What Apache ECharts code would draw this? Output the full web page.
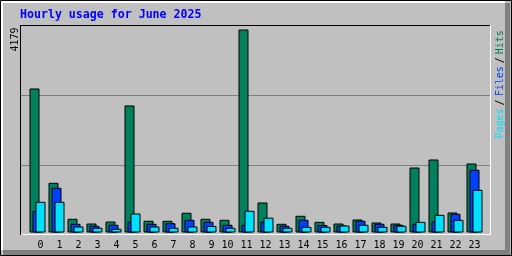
<!DOCTYPE html>
<html>
<head>
<meta charset="utf-8">
<script src="https://cdn.jsdelivr.net/npm/echarts@6/dist/echarts.min.js"></script>
<style>
html,body{margin:0;padding:0;background:#C0C0C0;}
#c{width:512px;height:256px;}
</style>
</head>
<body>
<div id="c"></div>
<script>
const titleText = 'Hourly usage for June 2025';
const maxLabel = '4179';
const hours = ['0','1','2','3','4','5','6','7','8','9','10','11','12','13','14','15','16','17','18','19','20','21','22','23'];
const hits  = [2965,1023,282,185,226,2615,241,241,406,282,261,4179,618,179,344,220,185,268,206,185,1338,1503,412,1421];
const files = [443,920,179,138,159,226,179,191,261,220,159,159,222,138,261,154,144,241,179,159,179,226,385,1291];
const pages = [632,632,124,97,76,391,124,97,124,134,97,447,305,97,117,117,144,159,117,138,220,364,261,879];

const C_HIT = '#00805C', C_FILE = '#0040FF', C_PAGE = '#00E0FF';
const mono = '"DejaVu Sans Mono", "Liberation Mono", monospace';

const chart = echarts.init(document.getElementById('c'), null, {renderer:'canvas', width:512, height:256});

function line(x1,y1,x2,y2,color,z){
  return {type:'line', z:z||0, silent:true, shape:{x1:x1,y1:y1,x2:x2,y2:y2}, style:{stroke:color, lineWidth:1}};
}
function rect(x,y,w,h,color,z){
  return {type:'rect', z:z||0, silent:true, shape:{x:x,y:y,width:w,height:h}, style:{fill:color}};
}

const graphics = [
  // outer bevel
  rect(0,0,512,256,'#C0C0C0',-10),
  rect(1,1,504,2,'#FFFFFF',-9),
  rect(1,1,2,249,'#FFFFFF',-9),
  rect(505,3,5,252,'#808080',-9),
  rect(3,250,507,5,'#808080',-9),
  {type:'rect', z:-8, silent:true, shape:{x:0.5,y:0.5,width:511,height:255}, style:{fill:null, stroke:'#000000', lineWidth:1}},
  // plot frame
  line(20,25.5,491,25.5,'#000000',-5),
  line(20.5,25,20.5,235,'#000000',-5),
  line(490.5,25,490.5,235,'#FFFFFF',-5),
  line(21,234.5,491,234.5,'#FFFFFF',-5),
  // grid lines (thirds of the frame)
  line(21,95.5,490,95.5,'#808080',-4),
  line(21,165.5,490,165.5,'#808080',-4),
  // title
  {type:'text', z:5, silent:true, x:20, y:15,
   style:{text:titleText, fill:'#0000FF', font:'bold 11.6px ' + mono, textAlign:'left', textVerticalAlign:'middle'}},
  // max label
  {type:'text', z:5, silent:true, x:15.5, y:51.5, rotation:Math.PI/2,
   style:{text:maxLabel, fill:'#000000', font:'10px ' + mono, textAlign:'left', textVerticalAlign:'middle'}},
  // right legend
  {type:'text', z:5, silent:true, x:500, y:138.5, rotation:Math.PI/2,
   style:{text:'{p|Pages}{s| }{k|/}{s| }{f|Files}{s| }{k|/}{s| }{h|Hits}',
     font:'10px ' + mono, textAlign:'left', textVerticalAlign:'middle',
     rich:{
       p:{fill:C_PAGE, font:'10px ' + mono},
       f:{fill:C_FILE, font:'10px ' + mono},
       h:{fill:C_HIT, font:'10px ' + mono},
       k:{fill:'#000000', font:'10px ' + mono},
       s:{fill:'#000000', font:'5px ' + mono}
     }}}
];

function barSeries(name, data, color){
  return {
    name:name, type:'bar', data:data, barWidth:10, barGap:'-70%',
    itemStyle:{color:color, borderColor:'#000000', borderWidth:1},
    animation:false, silent:true
  };
}

chart.setOption({
  backgroundColor:'#C0C0C0',
  animation:false,
  grid:{left:28, right:28, top:29.5, bottom:23.5, containLabel:false},
  xAxis:{
    type:'category', data:hours, boundaryGap:true,
    axisLine:{show:false}, axisTick:{show:false}, splitLine:{show:false},
    axisLabel:{color:'#000000', fontFamily:mono, fontSize:10, margin:8, interval:0,
      formatter:function(v){ return v.length < 2 ? ' ' + v : v; }}
  },
  yAxis:{
    type:'value', min:0, max:4179,
    axisLine:{show:false}, axisTick:{show:false}, axisLabel:{show:false}, splitLine:{show:false}
  },
  graphic:graphics,
  series:[
    barSeries('Hits', hits, C_HIT),
    barSeries('Files', files, C_FILE),
    barSeries('Pages', pages, C_PAGE)
  ]
});
</script>
</body>
</html>
